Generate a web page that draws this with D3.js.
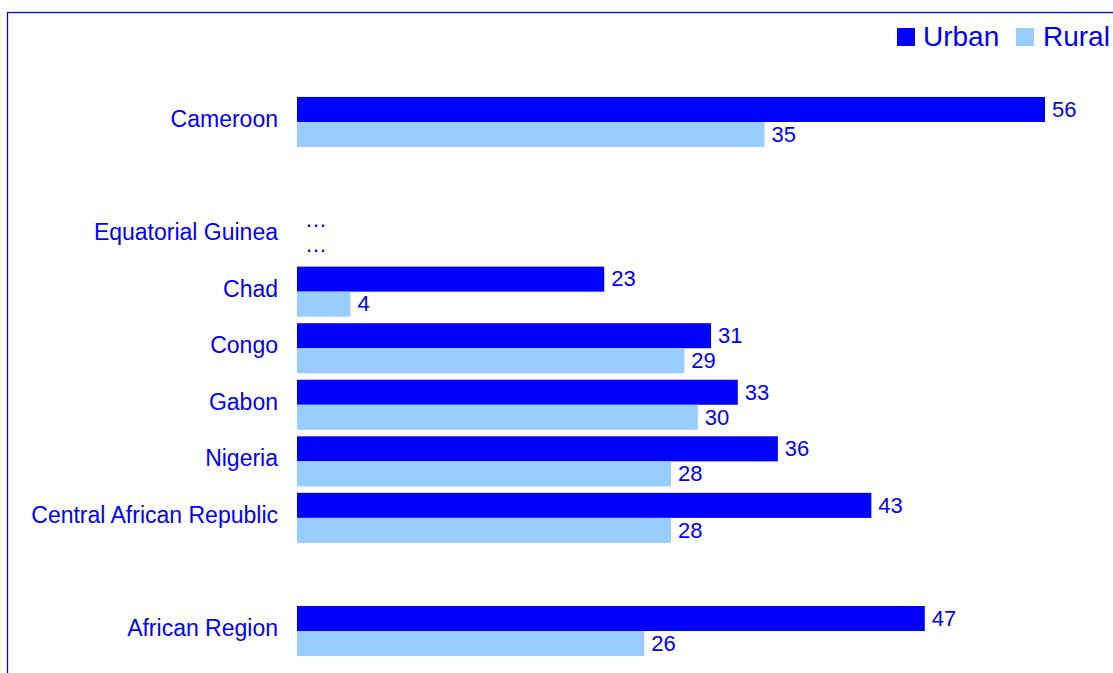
<!DOCTYPE html>
<html>
<head>
<meta charset="utf-8">
<script src="https://cdn.jsdelivr.net/npm/d3@7"></script>
<style>
  html, body { margin: 0; padding: 0; background: #fff; }
  svg { display: block; }
  text { font-family: "Liberation Sans", Arial, sans-serif; fill: #0000FF; }
</style>
</head>
<body>
<svg id="chart" width="1113" height="673"></svg>
<script>
// Data
const categories = ["Cameroon", "", "Equatorial Guinea", "Chad", "Congo", "Gabon", "Nigeria", "Central African Republic", " ", "African Region"];
const urban = [56, null, null, 23, 31, 33, 36, 43, null, 47];
const rural = [35, null, null, 4, 29, 30, 28, 28, null, 26];
const missingLabel = "…";
const seriesNames = ["Urban", "Rural"];
const seriesColors = ["#0000FF", "#99CCFF"];

const svg = d3.select("#chart");
const W = 1113, H = 673;

// frame
svg.append("rect")
  .attr("x", 7.5).attr("y", 12.5)
  .attr("width", W + 20).attr("height", H + 20)
  .attr("fill", "none").attr("stroke", "#0000FF").attr("stroke-width", 1.3);

const x = d3.scaleLinear().domain([0, 56]).range([297, 1045]);
const y = d3.scaleBand().domain(categories).range([93.7, 659.3])
  .paddingInner(0.115).paddingOuter(0.0575);
const sub = d3.scaleBand().domain([0, 1]).range([0, y.bandwidth()]);

// category axis
const yAxis = d3.axisLeft(y).tickSize(0).tickPadding(19);
const gy = svg.append("g").attr("transform", `translate(${x(0)},0)`).call(yAxis);
gy.select(".domain").remove();
gy.selectAll("text")
  .style("font-size", "23px")
  .style("font-family", "'Liberation Sans', Arial, sans-serif")
  .attr("fill", "#0000FF")
  .attr("dy", "0.22em");

const rows = categories.map((c, i) => ({ c, vals: [urban[i], rural[i]] }));
const realRows = rows.filter(r => r.c.trim() !== "");

const g = svg.append("g");
realRows.forEach(r => {
  r.vals.forEach((v, k) => {
    const y0 = y(r.c) + sub(k);
    if (v != null) {
      g.append("rect")
        .attr("x", x(0)).attr("y", y0)
        .attr("width", x(v) - x(0)).attr("height", sub.bandwidth())
        .attr("fill", seriesColors[k]);
      g.append("text")
        .attr("x", x(v) + 7).attr("y", y0 + sub.bandwidth() / 2)
        .attr("dy", "0.33em")
        .style("font-size", "22px")
        .text(v);
    } else {
      g.append("text")
        .attr("x", x(0) + 8).attr("y", y0 + sub.bandwidth() / 2 + 4)
        .style("font-size", "22px")
        .text(missingLabel);
    }
  });
});

// legend
const legend = svg.append("g");
const legItems = [
  { name: seriesNames[0], color: seriesColors[0], sx: 897, tx: 923 },
  { name: seriesNames[1], color: seriesColors[1], sx: 1016, tx: 1043 }
];
legItems.forEach(d => {
  legend.append("rect").attr("x", d.sx).attr("y", 28).attr("width", 18).attr("height", 18).attr("fill", d.color);
  legend.append("text").attr("x", d.tx).attr("y", 46).style("font-size", "28px").text(d.name);
});
</script>
</body>
</html>
